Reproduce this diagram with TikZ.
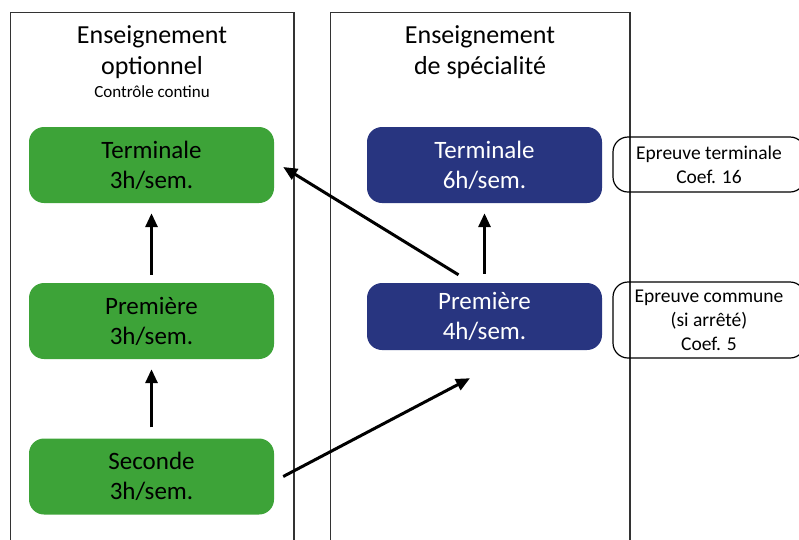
\documentclass[tikz,border=0pt]{standalone}
\usepackage{fontspec}
\setmainfont{Carlito}
\usepackage{xcolor}
\usetikzlibrary{arrows.meta}

\definecolor{optgreen}{RGB}{61,163,56}
\definecolor{speblue}{RGB}{40,53,128}

\begin{document}
\begin{tikzpicture}[
  x=1pt, y=-1pt,
  panel/.style={draw=black!80, line width=1.5pt},
  titre/.style={align=center, font=\fontsize{26}{31}\selectfont},
  optbox/.style={fill=optgreen, rounded corners=15pt, minimum width=245pt, minimum height=76pt, align=center, font=\fontsize{25}{30}\selectfont},
  spebox/.style={fill=speblue, text=white, rounded corners=15pt, minimum width=235pt, align=center, font=\fontsize{25}{30}\selectfont},
  epreuve/.style={draw, line width=1.2pt, rounded corners=15pt, minimum width=192pt, align=center, font=\fontsize{19.5}{24}\selectfont},
  arr/.style={-{Triangle[length=14pt,width=12pt]}, line width=3pt}
]
\useasboundingbox (0,0) rectangle (799,539);

% les deux colonnes
\draw[panel] (10.5,12.5) rectangle (294,560);
\draw[panel] (330.5,12.5) rectangle (630,560);

\node[titre] (titreOpt) at (152,52) {Enseignement\\optionnel};
\node[font=\fontsize{17}{20}\selectfont] (cc) at (152,92) {Contrôle continu};
\node[titre] (titreSpe) at (480,52) {Enseignement\\de spécialité};

% enseignement optionnel
\node[optbox] (optT) at (151.5,165) {Terminale\\3h/sem.};
\node[optbox] (optP) at (151.5,321) {Première\\3h/sem.};
\node[optbox] (optS) at (151.5,476.5) {Seconde\\3h/sem.};

% enseignement de specialite
\node[spebox, minimum height=76pt] (speT) at (484.5,165) {Terminale\\6h/sem.};
\node[spebox, minimum height=67pt] (speP) at (484.5,316.5) {Première\\4h/sem.};

% epreuves
\node[epreuve, minimum height=55pt] (epT) at (709,164.5) {Epreuve terminale\\Coef. 16};
\node[epreuve, minimum height=76pt] (epP) at (709,320) {Epreuve commune\\(si arrêté)\\Coef. 5};

% fleches
\draw[arr, shorten <=8pt, shorten >=10pt] (optP.north) -- (optT.south);
\draw[arr, shorten <=11pt, shorten >=10pt] (optS.north) -- (optP.south);
\draw[arr, shorten <=9pt, shorten >=10pt] (speP.north) -- (speT.south);
\draw[arr] ([xshift=-26pt,yshift=8pt]speP.north) -- ([xshift=9pt,yshift=-2pt]optT.east);
\draw[arr] ([xshift=9pt]optS.east) -- ([xshift=-14.5pt,yshift=-28pt]speP.south);
\end{tikzpicture}
\end{document}
